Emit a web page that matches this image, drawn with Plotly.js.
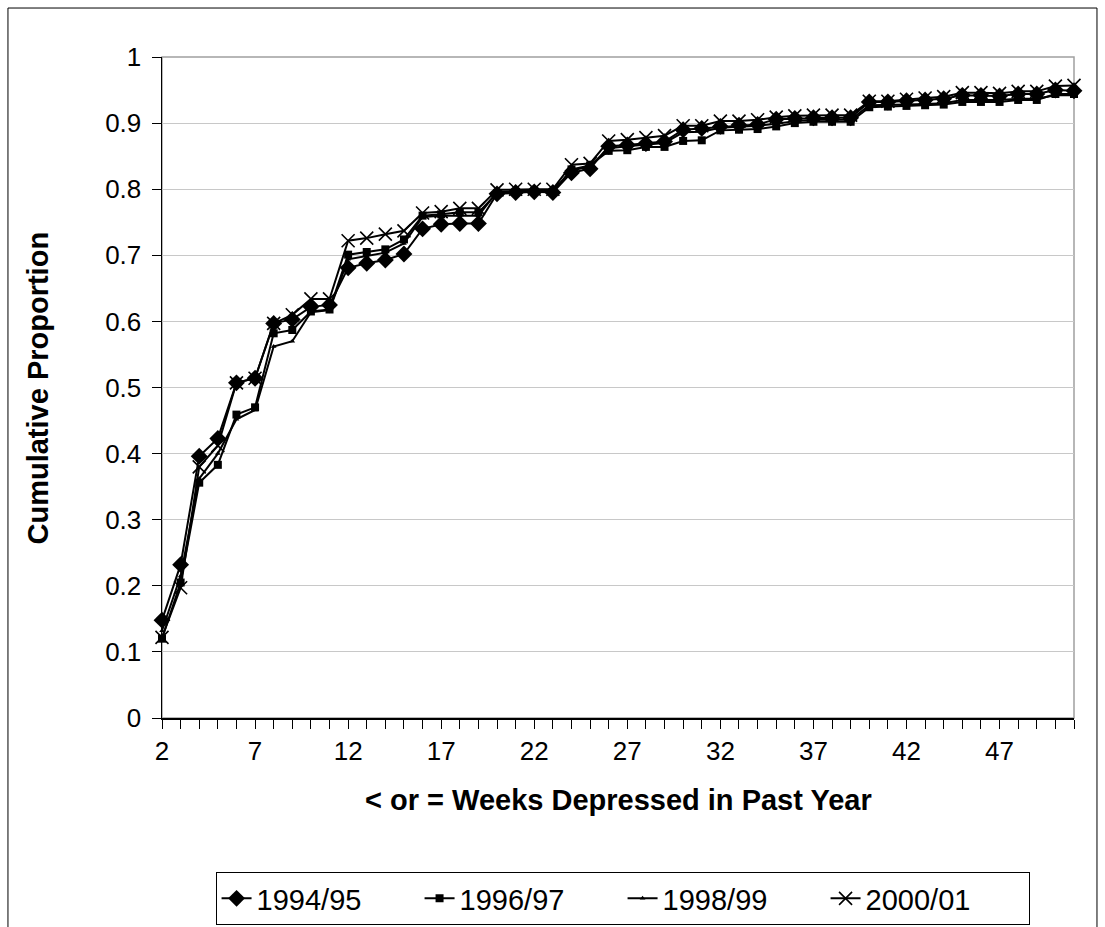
<!DOCTYPE html>
<html>
<head>
<meta charset="utf-8">
<script src="https://cdn.plot.ly/plotly-3.0.1.min.js"></script>
<style>
  html, body { margin: 0; padding: 0; background: #ffffff; }
  #chart { width: 1105px; height: 927px; }
</style>
</head>
<body>
<div id="chart"></div>
<script>
// Weeks (category axis)
var weeks = [2,3,4,5,6,7,8,9,10,11,12,13,14,15,16,17,18,19,20,21,22,23,24,25,26,
             27,28,29,30,31,32,33,34,35,36,37,38,39,40,41,42,43,44,45,46,47,48,49,50,51];

// Series names
var seriesNames = ["1994/95", "1996/97", "1998/99", "2000/01"];

// Cumulative proportions
var s9495 = [0.148,0.232,0.396,0.423,0.507,0.514,0.597,0.603,0.622,0.625,
             0.681,0.688,0.693,0.702,0.740,0.747,0.748,0.748,0.793,0.795,
             0.796,0.795,0.825,0.831,0.865,0.867,0.869,0.872,0.890,0.892,
             0.895,0.897,0.898,0.906,0.907,0.908,0.908,0.908,0.932,0.932,
             0.934,0.935,0.937,0.942,0.942,0.941,0.944,0.944,0.950,0.949];

var s9697 = [0.120,0.205,0.356,0.383,0.459,0.470,0.582,0.587,0.615,0.618,
             0.701,0.705,0.709,0.724,0.760,0.762,0.765,0.765,0.794,0.796,
             0.797,0.796,0.830,0.836,0.858,0.859,0.864,0.864,0.873,0.874,
             0.889,0.890,0.891,0.895,0.900,0.902,0.902,0.902,0.924,0.925,
             0.926,0.927,0.928,0.932,0.932,0.932,0.935,0.935,0.944,0.944];

var s9899 = [0.132,0.215,0.362,0.400,0.452,0.466,0.562,0.570,0.614,0.617,
             0.694,0.699,0.704,0.718,0.758,0.760,0.760,0.760,0.796,0.797,
             0.798,0.797,0.828,0.835,0.862,0.865,0.867,0.870,0.886,0.887,
             0.893,0.894,0.896,0.899,0.903,0.905,0.905,0.905,0.927,0.927,
             0.928,0.929,0.930,0.935,0.935,0.935,0.937,0.937,0.942,0.942];

var s0001 = [0.122,0.197,0.380,0.412,0.507,0.514,0.597,0.610,0.634,0.634,
             0.722,0.726,0.732,0.737,0.764,0.766,0.771,0.771,0.799,0.800,
             0.800,0.800,0.837,0.839,0.873,0.875,0.878,0.881,0.896,0.896,
             0.903,0.903,0.905,0.909,0.911,0.912,0.912,0.912,0.933,0.933,
             0.936,0.938,0.940,0.946,0.946,0.945,0.948,0.948,0.956,0.957];

// Tick labels
var xTickVals = [2,7,12,17,22,27,32,37,42,47];
var yTickVals = [0,0.1,0.2,0.3,0.4,0.5,0.6,0.7,0.8,0.9,1];
var yTickText = ["0","0.1","0.2","0.3","0.4","0.5","0.6","0.7","0.8","0.9","1"];

var FONT = "Liberation Sans, Arial, sans-serif";

function mk(name, y, symbol, size, lw) {
  return {
    type: "scatter", mode: "lines+markers", name: name,
    x: weeks, y: y, cliponaxis: false,
    line: { color: "#000000", width: 2 },
    marker: { symbol: symbol, size: size, color: "#000000",
              line: { color: "#000000", width: lw } }
  };
}

var traces = [
  mk(seriesNames[0], s9495, "diamond", 13, 0),
  mk(seriesNames[1], s9697, "square", 8, 0),
  mk(seriesNames[2], s9899, "triangle-up", 5, 0),
  mk(seriesNames[3], s0001, "x-thin", 13, 1.6)
];

var layout = {
  width: 1105, height: 927,
  margin: { l: 162, r: 31, t: 57, b: 209, autoexpand: false },
  paper_bgcolor: "#ffffff", plot_bgcolor: "#ffffff",
  font: { family: FONT, size: 26, color: "#000000" },
  showlegend: true,
  xaxis: {
    range: [2, 51], tickmode: "array", tickvals: xTickVals,
    ticks: "outside", ticklen: 9, tickwidth: 1, tickcolor: "#000000",
    minor: { dtick: 1, tick0: 2, ticks: "outside", ticklen: 9, tickwidth: 1, tickcolor: "#000000", showgrid: false },
    showline: true, linecolor: "#000000", linewidth: 1.5,
    showgrid: false, zeroline: false, automargin: false,
    tickfont: { family: FONT, size: 26, color: "#000000" },
    fixedrange: true
  },
  yaxis: {
    range: [0, 1], tickmode: "array", tickvals: yTickVals, ticktext: yTickText,
    ticks: "outside", ticklen: 9, tickwidth: 1, tickcolor: "#000000",
    showline: true, linecolor: "#000000", linewidth: 1.5,
    showgrid: true, gridcolor: "#c8c8c8", gridwidth: 1, zeroline: false, automargin: false,
    tickfont: { family: FONT, size: 26, color: "#000000" },
    ticklabelstandoff: 5,
    fixedrange: true
  },
  legend: {
    orientation: "h", x: 0.505, xanchor: "center", y: -0.233, yanchor: "top",
    bordercolor: "#000000", borderwidth: 1, bgcolor: "#ffffff",
    font: { family: FONT, size: 29, color: "#000000" },
    traceorder: "normal", itemwidth: 30,
    entrywidth: 158, entrywidthmode: "pixels"
  },
  shapes: [
    { type: "rect", xref: "paper", yref: "paper", x0: 0, x1: 1, y0: 0, y1: 1,
      line: { color: "#a0a0a0", width: 1.5 }, layer: "below" },
    { type: "rect", xref: "paper", yref: "paper", x0: -0.1689, x1: 1.0252, y0: -0.36, y1: 1.0741,
      line: { color: "#000000", width: 1 }, layer: "below" }
  ],
  annotations: [
    { text: "<b>Cumulative Proportion</b>", xref: "paper", yref: "paper",
      x: -0.136, y: 0.5, xanchor: "center", yanchor: "middle", textangle: -90,
      showarrow: false, font: { family: FONT, size: 29, color: "#000000" } },
    { text: "<b>&lt; or = Weeks Depressed in Past Year</b>", xref: "paper", yref: "paper",
      x: 0.5, y: -0.124, xanchor: "center", yanchor: "middle",
      showarrow: false, font: { family: FONT, size: 29, color: "#000000" } }
  ]
};

Plotly.newPlot("chart", traces, layout, { displayModeBar: false, staticPlot: true });
</script>
</body>
</html>
